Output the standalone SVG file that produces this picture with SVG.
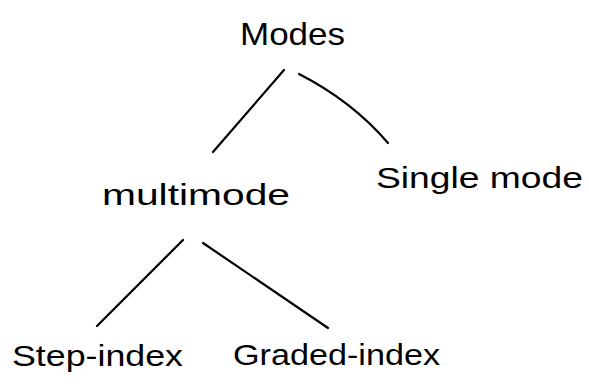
<svg xmlns="http://www.w3.org/2000/svg" width="589" height="390" viewBox="0 0 589 390">
  <style>
    .lbl { font-family: "Liberation Sans", "DejaVu Sans", sans-serif; fill: #000; }
    .edge { fill: none; stroke: #000; stroke-width: 2.2; stroke-linecap: round; }
  </style>
  <rect width="589" height="390" fill="#fff"/>
  <g id="connectors">
    <path class="edge" d="M284,70 L213,152"/>
    <path class="edge" d="M299,74 Q352,101 388,143"/>
    <path class="edge" d="M183,240 L97,326"/>
    <path class="edge" d="M203,243 L328,328"/>
  </g>
  <g id="node-modes">
    <text class="lbl" x="240" y="45" font-size="32" textLength="105" lengthAdjust="spacingAndGlyphs">Modes</text>
  </g>
  <g id="node-multimode">
    <text class="lbl" x="102" y="205" font-size="30" textLength="188" lengthAdjust="spacingAndGlyphs">multimode</text>
  </g>
  <g id="node-single-mode">
    <text class="lbl" x="376" y="188" font-size="30" textLength="207" lengthAdjust="spacingAndGlyphs">Single mode</text>
  </g>
  <g id="node-step-index">
    <text class="lbl" x="12" y="366" font-size="30" textLength="171" lengthAdjust="spacingAndGlyphs">Step-index</text>
  </g>
  <g id="node-graded-index">
    <text class="lbl" x="233" y="365" font-size="30" textLength="207" lengthAdjust="spacingAndGlyphs">Graded-index</text>
  </g>
</svg>
